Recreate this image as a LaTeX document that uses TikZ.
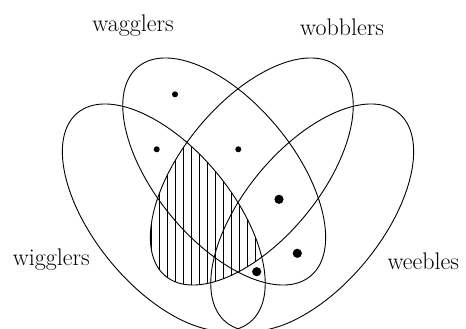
\documentclass[tikz,border=0pt]{standalone}
\begin{document}
\begin{tikzpicture}[x=1pt,y=1pt,
  setline/.style={line width=0.9pt},
  hatch/.style={line width=0.8pt},
  lbl/.style={anchor=base,inner sep=0pt,font=\fontsize{24}{28}\selectfont},
  smalldot/.style={fill=black},
  bigdot/.style={fill=black}]
\useasboundingbox (0,0) rectangle (466,-329);
% hatched region: wigglers ∩ wobblers
\begin{scope}
  \clip[rotate around={-50.5:(163.8,-217.5)}] (163.8,-217.5) ellipse [x radius=135.6pt, y radius=69.2pt];
  \clip[rotate around={50.5:(251.8,-171.5)}] (251.8,-171.5) ellipse [x radius=135.6pt, y radius=69.2pt];
  \foreach \x in {143.3,151.3,...,271.3} \draw[hatch] (\x,-100) -- (\x,-320);
\end{scope}
% ellipses
\draw[setline,rotate around={-50.5:(224.2,-171.5)}] (224.2,-171.5) ellipse [x radius=135.6pt, y radius=69.2pt]; % wagglers
\draw[setline,rotate around={50.5:(251.8,-171.5)}] (251.8,-171.5) ellipse [x radius=135.6pt, y radius=69.2pt]; % wobblers
\draw[setline,rotate around={-50.5:(163.8,-217.5)}] (163.8,-217.5) ellipse [x radius=135.6pt, y radius=69.2pt]; % wigglers
\draw[setline,rotate around={50.5:(312.2,-217.5)}] (312.2,-217.5) ellipse [x radius=135.6pt, y radius=69.2pt]; % weebles
% dots
\fill[smalldot] (175,-94.3) circle[radius=3pt];
\fill[smalldot] (156.7,-149.3) circle[radius=3pt];
\fill[smalldot] (238.3,-149.3) circle[radius=3pt];
\fill[bigdot] (279,-199.3) circle[radius=4.6pt];
\fill[bigdot] (297.3,-253.3) circle[radius=4.6pt];
\fill[bigdot] (256.7,-271.7) circle[radius=4.6pt];
% labels
\node[lbl] (wag) at (133,-32) {wagglers};
\node[lbl] (wob) at (342,-35.7) {wobblers};
\node[lbl] (wig) at (51.3,-265) {wigglers};
\node[lbl] (wee) at (423.3,-269) {weebles};
\end{tikzpicture}
\end{document}
